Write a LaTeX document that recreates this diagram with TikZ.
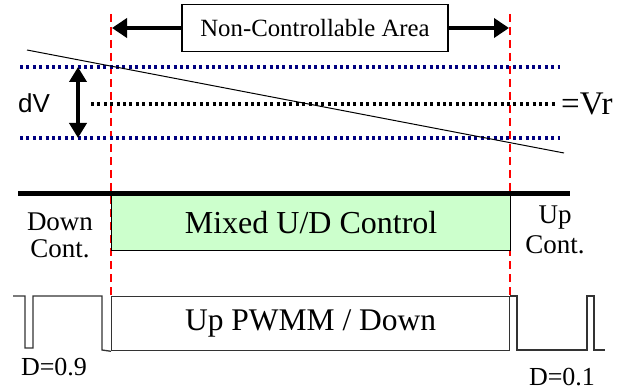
\documentclass[tikz,border=0pt]{standalone}
\usepackage{fontspec}
\setmainfont{Liberation Serif}
\newfontfamily\sansf{Liberation Sans}
\usetikzlibrary{arrows.meta}
\definecolor{lgreen}{HTML}{CCFFCC}
\definecolor{dotblue}{HTML}{000080}
\tikzset{
  reddash/.style={draw=red, line width=1.3pt, dash pattern=on 8pt off 5pt},
  bluedot/.style={draw=dotblue, line width=3.2pt, dash pattern=on 3pt off 3.4pt},
  blackdot/.style={draw=black, line width=3.2pt, dash pattern=on 3pt off 3.4pt},
  bigarrow/.style={line width=3.8pt, -{Triangle[length=15pt,width=19pt]}},
  wave/.style={draw=black!80, line width=1.3pt},
  lbl/.style={inner sep=0pt, font=\fontsize{26}{28}\selectfont}
}
\begin{document}
\begin{tikzpicture}[x=1pt,y=-1pt]
\useasboundingbox (0,0) rectangle (631,390);
% red dashed boundaries
\coordinate (rlt) at (111,14);
\coordinate (rlb) at (111,297);
\coordinate (rrt) at (510,14);
\coordinate (rrb) at (510,297);
\draw[reddash] (rlt) -- (rlb);
\draw[reddash] (rrt) -- (rrb);
% top box
\node[draw, line width=1.2pt, minimum width=266pt, minimum height=47pt, inner sep=0pt,
      font=\fontsize{24.8}{27}\selectfont] (nca) at (315,28) {Non-Controllable Area};
\coordinate (al) at (112,28);
\coordinate (ar) at (509,28);
\draw[bigarrow] (nca.west) -- (al);
\draw[bigarrow] (nca.east) -- (ar);
% dotted lines
\coordinate (b1l) at (20,67); \coordinate (b1r) at (560,67);
\coordinate (b2l) at (20,138); \coordinate (b2r) at (560,138);
\coordinate (ml) at (91,104); \coordinate (mr) at (557,104);
\draw[bluedot] (b1l) -- (b1r);
\draw[bluedot] (b2l) -- (b2r);
\draw[blackdot] (ml) -- (mr);
\node[lbl, anchor=west, font=\fontsize{33}{35}\selectfont] (vr) at (561,104) {=Vr};
\node[lbl, font=\sansf\fontsize{26}{28}\selectfont] (dv) at (34,103) {dV};
% dV arrow
\coordinate (dvt) at (78,67); \coordinate (dvb) at (78,138);
\draw[line width=3.8pt, {Triangle[length=15pt,width=17pt]}-{Triangle[length=15pt,width=17pt]}] (dvt) -- (dvb);
% diagonal
\coordinate (d1) at (27,50); \coordinate (d2) at (564,153);
\draw[line width=1pt] (d1) -- (d2);
% thick line
\coordinate (tl) at (18,193); \coordinate (tr) at (570,193);
% green box
\node[draw, fill=lgreen, line width=1.2pt, minimum width=399pt, minimum height=57pt, inner sep=0pt,
      anchor=north west, font=\fontsize{32}{34}\selectfont] (mix) at (111,193) {Mixed U/D Control};
\draw[line width=5pt] (tl) -- (tr);
\node[lbl, align=center, font=\fontsize{27}{27}\selectfont] (down) at (60,235) {Down\\Cont.};
\node[lbl, align=center, font=\fontsize{27}{30}\selectfont] (up) at (555,230) {Up\\Cont.};
% waveform
\node[draw=black!80, line width=1.3pt, minimum width=398pt, minimum height=54pt, inner sep=0pt,
      anchor=north west, font=\fontsize{31.5}{33}\selectfont] (pwm) at (111,296) {Up PWMM / Down};
\draw[wave] (13,296) -- (25,296) -- (25,348) -- (33,348) -- (33,296) -- (102,296) -- (102,350) -- (pwm.south west);
\draw[wave] (pwm.north east) -- (517,296) -- (517,350) -- (587,350) -- (587,296) -- (594,296) -- (594,350) -- (605,350);
\node[lbl] (d9) at (54,367) {D=0.9};
\node[lbl] (d1l) at (562,377) {D=0.1};
\end{tikzpicture}
\end{document}
